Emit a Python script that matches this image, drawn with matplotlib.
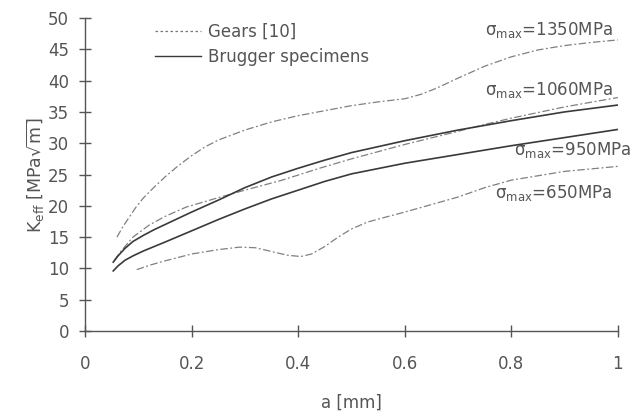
import matplotlib
matplotlib.use('Agg')
import matplotlib.pyplot as plt
from matplotlib.lines import Line2D

plt.rcParams['font.family'] = ['DejaVu Sans']
plt.rcParams['mathtext.fontset'] = 'dejavusans'

# gears [10]
a_1350 = [0.06, 0.07, 0.08, 0.095, 0.11, 0.13, 0.15, 0.175, 0.2, 0.225, 0.25, 0.3, 0.35, 0.4,
          0.45, 0.5, 0.55, 0.6, 0.63, 0.66, 0.7, 0.75, 0.8, 0.85, 0.9, 0.95, 1.0]
k_1350 = [15.0, 16.5, 17.8, 19.7, 21.3, 23.0, 24.6, 26.4, 28.0, 29.4, 30.5, 32.1, 33.4, 34.4,
          35.2, 36.0, 36.6, 37.1, 37.8, 38.8, 40.4, 42.3, 43.8, 44.9, 45.6, 46.1, 46.5]

a_1060 = [0.055, 0.07, 0.09, 0.12, 0.15, 0.19, 0.25, 0.3, 0.37, 0.44, 0.5, 0.6, 0.7, 0.75,
          0.8, 0.9, 1.0]
k_1060 = [11.3, 13.0, 15.0, 16.9, 18.3, 19.8, 21.3, 22.5, 24.1, 26.0, 27.5, 29.8, 31.9, 33.0,
          34.0, 35.8, 37.3]

a_650 = [0.097, 0.125, 0.15, 0.2, 0.25, 0.29, 0.32, 0.35, 0.38, 0.405, 0.425, 0.45, 0.475,
         0.5, 0.53, 0.56, 0.6, 0.65, 0.7, 0.75, 0.8, 0.9, 1.0]
k_650 = [9.8, 10.6, 11.2, 12.3, 13.0, 13.4, 13.3, 12.7, 12.1, 11.9, 12.3, 13.5, 15.0,
         16.3, 17.4, 18.1, 19.0, 20.2, 21.4, 22.9, 24.1, 25.5, 26.3]

# Brugger specimens
a_upper = [0.053, 0.062, 0.075, 0.09, 0.11, 0.13, 0.15, 0.2, 0.25, 0.3, 0.35, 0.4, 0.45, 0.5,
           0.6, 0.7, 0.8, 0.9, 1.0]
k_upper = [11.0, 12.0, 13.2, 14.3, 15.3, 16.2, 17.0, 19.0, 20.9, 22.9, 24.6, 26.0, 27.3, 28.5,
           30.4, 32.1, 33.6, 35.0, 36.1]

a_lower = [0.053, 0.062, 0.075, 0.09, 0.11, 0.13, 0.15, 0.2, 0.25, 0.3, 0.35, 0.4, 0.45, 0.5,
           0.6, 0.7, 0.8, 0.9, 1.0]
k_lower = [9.6, 10.4, 11.3, 12.0, 12.8, 13.5, 14.2, 16.0, 17.8, 19.5, 21.1, 22.5, 23.9, 25.1,
           26.8, 28.2, 29.6, 30.9, 32.2]

labels = [r'$\mathrm{\sigma}_{\rm max}$=1350MPa', r'$\mathrm{\sigma}_{\rm max}$=1060MPa',
          r'$\mathrm{\sigma}_{\rm max}$=950MPa', r'$\mathrm{\sigma}_{\rm max}$=650MPa']
label_pos = [(0.87, 48.1), (0.87, 38.5), (0.915, 28.9), (0.88, 22.0)]

grey = '#555555'
dashdot = (0, (6, 2, 1.5, 2))

fig = plt.figure(figsize=(6.39, 4.19), dpi=100)
ax = fig.add_axes([0.133, 0.21, 0.834, 0.747])

ax.plot(a_1350, k_1350, color='#808080', lw=0.9, ls=dashdot)
ax.plot(a_1060, k_1060, color='#808080', lw=0.9, ls=dashdot)
ax.plot(a_650, k_650, color='#808080', lw=0.9, ls=dashdot)
ax.plot(a_upper, k_upper, color='#3a3a3a', lw=1.2)
ax.plot(a_lower, k_lower, color='#3a3a3a', lw=1.2)

for txt, (x, y) in zip(labels, label_pos):
    ax.text(x, y, txt, ha='center', va='center', fontsize=12, color=grey)

handles = [Line2D([], [], color='#777777', lw=0.9, ls=(0, (2, 2))),
           Line2D([], [], color='#3a3a3a', lw=1.0)]
ax.legend(handles, ['Gears [10]', 'Brugger specimens'], loc='upper left',
          bbox_to_anchor=(0.131, 0.985), frameon=False, fontsize=12,
          handlelength=2.8, handletextpad=0.4, borderpad=0, borderaxespad=0,
          labelspacing=0.45, labelcolor=grey)

ax.set_xlim(0, 1)
ax.set_ylim(0, 50)
ax.set_xticks([0, 0.2, 0.4, 0.6, 0.8, 1])
ax.set_xticklabels(['0', '0.2', '0.4', '0.6', '0.8', '1'])
ax.set_yticks(range(0, 51, 5))
for s in ['top', 'right']:
    ax.spines[s].set_visible(False)
for s in ['left', 'bottom']:
    ax.spines[s].set_color(grey)
    ax.spines[s].set_linewidth(1.0)
ax.tick_params(direction='inout', length=9, width=1.0, color=grey,
               labelcolor=grey, labelsize=12)
ax.tick_params(axis='x', pad=13)
ax.tick_params(axis='y', pad=7)

ax.set_xlabel('a [mm]', fontsize=12, color=grey, labelpad=15)
ax.set_ylabel(r'K$_{\rm eff}$ [MPa$\sqrt{\rm m}$]', fontsize=12.5, color=grey, labelpad=1)

fig.savefig('out.png', dpi=100)
